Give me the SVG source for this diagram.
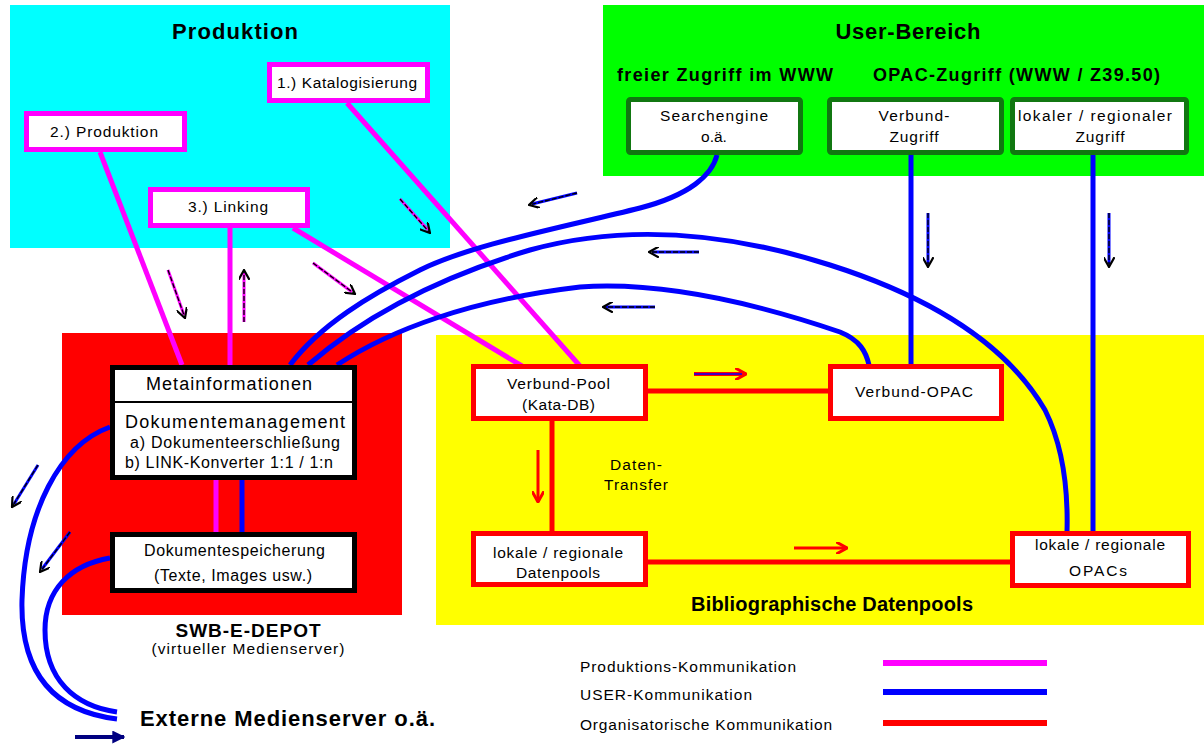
<svg xmlns="http://www.w3.org/2000/svg" width="1204" height="744" viewBox="0 0 1204 744">
  <style>
    text { font-family: "Liberation Sans", Arial, sans-serif; fill: #000; }
    .title { font-weight: bold; }
    .t14 { font-size: 15.5px; }
    .t15 { font-size: 16px; }
    .t17 { font-size: 18px; }
    .mid { text-anchor: middle; }
    .pbox { fill: #fff; stroke: #ff00ff; stroke-width: 5; }
    .gbox { fill: #fff; stroke: #117711; stroke-width: 5; }
    .rbox { fill: #fff; stroke: #ff0000; stroke-width: 5; }
    .kbox { fill: #fff; stroke: #000; stroke-width: 5; }
    .prod { stroke: #ff00ff; stroke-width: 5; fill: none; }
    .user { stroke: #0000ff; stroke-width: 5; fill: none; }
    .org { stroke: #ff0000; stroke-width: 5; fill: none; }
    .legend { stroke-width: 6; }
    .dash { stroke: #000; stroke-width: 1.3; stroke-dasharray: 5 2; fill: none; }
    .aP { stroke: #ff00ff; stroke-width: 3; }
    .aB { stroke: #0000ff; stroke-width: 3; }
    .aR { stroke: #ff0000; stroke-width: 3; }
  </style>
  <defs>
    <marker id="headK" viewBox="0 0 10 10" refX="9" refY="5" markerWidth="11" markerHeight="11" markerUnits="userSpaceOnUse" orient="auto">
      <path d="M0,0 L9,5 L0,10" fill="none" stroke="#000" stroke-width="2"/>
    </marker>
    <marker id="headR" viewBox="0 0 10 10" refX="9" refY="5" markerWidth="12" markerHeight="12" markerUnits="userSpaceOnUse" orient="auto">
      <path d="M0,0 L9,5 L0,10" fill="none" stroke="#ff0000" stroke-width="2.5"/>
    </marker>
    <marker id="headN" viewBox="0 0 10 10" refX="9" refY="5" markerWidth="13" markerHeight="13" markerUnits="userSpaceOnUse" orient="auto">
      <path d="M0,0 L10,5 L0,10 Z" fill="#000080"/>
    </marker>
  </defs>

  <rect width="1204" height="744" fill="#fff"/>

  <!-- areas -->
  <g id="areas">
    <rect x="10" y="5" width="440" height="243" fill="#00ffff"/>
    <rect x="603" y="5" width="601" height="171" fill="#00ff00"/>
    <rect x="62" y="333" width="340" height="282" fill="#ff0000"/>
    <rect x="436" y="335" width="768" height="290" fill="#ffff00"/>
  </g>

  <!-- connectors -->
  <g id="connectors">
    <line class="prod" x1="100" y1="152" x2="182" y2="365"/>
    <line class="prod" x1="230" y1="228" x2="230" y2="365"/>
    <line class="prod" x1="293" y1="228" x2="522" y2="366"/>
    <line class="prod" x1="347" y1="103" x2="580" y2="366"/>
    <line class="prod" x1="216" y1="480" x2="216" y2="532"/>

    <line class="org" x1="648" y1="391" x2="828" y2="391"/>
    <line class="org" x1="552" y1="421" x2="552" y2="531"/>
    <line class="org" x1="648" y1="562" x2="1010" y2="562"/>

    <line class="user" x1="242" y1="480" x2="242" y2="532"/>
    <line class="user" x1="911" y1="155" x2="911" y2="364"/>
    <line class="user" x1="1093" y1="155" x2="1093" y2="531"/>
    <path class="user" d="M717,155 C712,175 690,195 640,208 C560,228 470,245 420,270 C370,295 320,325 290,365"/>
    <path class="user" d="M308,365 C360,320 430,280 530,250 C620,225 720,230 830,265 C940,300 1010,350 1045,410 C1065,450 1068,495 1067,532"/>
    <path class="user" d="M337,365 C390,330 470,300 580,287 C680,280 790,315 840,332 C860,340 866,352 869,365"/>
    <path class="user" d="M110,427 C60,445 25,510 22,600 C20,680 60,712 117,719"/>
    <path class="user" d="M110,558 C70,565 45,590 45,630 C45,680 75,706 117,712"/>
  </g>

  <!-- direction arrows -->
  <g id="arrows">
    <line class="aP" x1="400" y1="199" x2="428" y2="230"/>
    <line class="dash" x1="400" y1="199" x2="430" y2="233" marker-end="url(#headK)"/>
    <line class="aP" x1="168" y1="270" x2="184" y2="315"/>
    <line class="dash" x1="168" y1="270" x2="185" y2="318" marker-end="url(#headK)"/>
    <line class="aP" x1="244" y1="322" x2="244" y2="273"/>
    <line class="dash" x1="244" y1="322" x2="244" y2="270" marker-end="url(#headK)"/>
    <line class="aP" x1="313" y1="263" x2="352" y2="292"/>
    <line class="dash" x1="313" y1="263" x2="355" y2="294" marker-end="url(#headK)"/>

    <line class="aB" x1="577" y1="193" x2="532" y2="204"/>
    <line class="dash" x1="577" y1="193" x2="529" y2="205" marker-end="url(#headK)"/>
    <line class="aB" x1="699" y1="252" x2="652" y2="252"/>
    <line class="dash" x1="699" y1="252" x2="649" y2="252" marker-end="url(#headK)"/>
    <line class="aB" x1="655" y1="307" x2="606" y2="307"/>
    <line class="dash" x1="655" y1="307" x2="603" y2="307" marker-end="url(#headK)"/>
    <line class="aB" x1="928" y1="213" x2="928" y2="264"/>
    <line class="dash" x1="928" y1="213" x2="928" y2="267" marker-end="url(#headK)"/>
    <line class="aB" x1="1109" y1="213" x2="1109" y2="264"/>
    <line class="dash" x1="1109" y1="213" x2="1109" y2="267" marker-end="url(#headK)"/>
    <line class="aB" x1="38" y1="465" x2="14" y2="504"/>
    <line class="dash" x1="38" y1="465" x2="12" y2="507" marker-end="url(#headK)"/>
    <line class="aB" x1="70" y1="532" x2="42" y2="569"/>
    <line class="dash" x1="70" y1="532" x2="40" y2="572" marker-end="url(#headK)"/>

    <line x1="694" y1="374" x2="746" y2="374" stroke="#ff0000" stroke-width="4" marker-end="url(#headR)"/>
    <line x1="694" y1="374" x2="742" y2="374" stroke="#0000ff" stroke-width="1.5"/>
    <line class="aR" x1="538" y1="450" x2="538" y2="502" marker-end="url(#headR)"/>
    <line class="aR" x1="794" y1="548" x2="847" y2="548" marker-end="url(#headR)"/>

    <line x1="75" y1="737" x2="124" y2="737" stroke="#000080" stroke-width="4" marker-end="url(#headN)"/>
  </g>

  <!-- Produktion -->
  <text class="title mid" x="235" y="39" font-size="22" textLength="126">Produktion</text>
  <g id="katalogisierung">
    <rect class="pbox" x="269.5" y="64.5" width="158" height="36"/>
    <text class="t14" x="277" y="88" textLength="140">1.) Katalogisierung</text>
  </g>
  <g id="produktion">
    <rect class="pbox" x="26.5" y="113.5" width="158" height="36"/>
    <text class="t14" x="50" y="137" textLength="108">2.) Produktion</text>
  </g>
  <g id="linking">
    <rect class="pbox" x="150.5" y="189.5" width="157" height="36"/>
    <text class="t14" x="188" y="212" textLength="80">3.) Linking</text>
  </g>

  <!-- User-Bereich -->
  <text class="title mid" x="908" y="39" font-size="22" textLength="145">User-Bereich</text>
  <text class="title" x="617" y="81" font-size="18" textLength="216">freier Zugriff im WWW</text>
  <text class="title" x="873" y="81" font-size="18" textLength="287">OPAC-Zugriff (WWW / Z39.50)</text>
  <g id="searchengine">
    <rect class="gbox" x="628.5" y="99.5" width="172" height="53" rx="2"/>
    <text class="t14 mid" x="714" y="121" textLength="108">Searchengine</text>
    <text class="t14 mid" x="714" y="142">o.ä.</text>
  </g>
  <g id="verbund-zugriff">
    <rect class="gbox" x="829.5" y="99.5" width="172" height="53" rx="2"/>
    <text class="t14 mid" x="914" y="121" textLength="71">Verbund-</text>
    <text class="t14 mid" x="914" y="142" textLength="49">Zugriff</text>
  </g>
  <g id="lokaler-zugriff">
    <rect class="gbox" x="1012.5" y="99.5" width="174" height="53" rx="2"/>
    <text class="t14 mid" x="1095" y="121" textLength="154">lokaler / regionaler</text>
    <text class="t14 mid" x="1100" y="142" textLength="49">Zugriff</text>
  </g>

  <!-- SWB-E-DEPOT -->
  <g id="metainformationen">
    <rect class="kbox" x="112.5" y="367.5" width="242" height="110"/>
    <line x1="112" y1="402" x2="355" y2="402" stroke="#000" stroke-width="2"/>
    <text class="t17 mid" x="229" y="390" textLength="166">Metainformationen</text>
    <text class="t17" x="125" y="428" textLength="220">Dokumentemanagement</text>
    <text class="t15" x="130" y="448" textLength="210">a) Dokumenteerschließung</text>
    <text class="t15" x="125" y="468" textLength="208">b) LINK-Konverter 1:1 / 1:n</text>
  </g>
  <g id="dokumentespeicherung">
    <rect class="kbox" x="112.5" y="534.5" width="242" height="56"/>
    <text class="t15" x="144" y="556" textLength="181">Dokumentespeicherung</text>
    <text class="t15" x="154" y="581" textLength="158">(Texte, Images usw.)</text>
  </g>
  <text class="title mid" x="248" y="637" font-size="19" textLength="145">SWB-E-DEPOT</text>
  <text class="t14 mid" x="248" y="654" textLength="193">(virtueller Medienserver)</text>

  <g id="externe-medienserver">
    <text class="title" x="140" y="726" font-size="22" textLength="295">Externe Medienserver o.ä.</text>
  </g>

  <!-- Bibliographische Datenpools -->
  <g id="verbund-pool">
    <rect class="rbox" x="473.5" y="366.5" width="172" height="52"/>
    <text class="t14" x="507" y="389" textLength="103">Verbund-Pool</text>
    <text class="t14" x="522" y="410" textLength="73">(Kata-DB)</text>
  </g>
  <g id="verbund-opac">
    <rect class="rbox" x="830.5" y="366.5" width="171" height="52"/>
    <text class="t14 mid" x="914" y="397" textLength="118">Verbund-OPAC</text>
  </g>
  <g id="lokale-datenpools">
    <rect class="rbox" x="473.5" y="533.5" width="172" height="51"/>
    <text class="t14" x="493" y="558" textLength="130">lokale / regionale</text>
    <text class="t14" x="516" y="578" textLength="84">Datenpools</text>
  </g>
  <g id="lokale-opacs">
    <rect class="rbox" x="1012.5" y="533.5" width="176" height="52"/>
    <text class="t14" x="1035" y="550" textLength="130">lokale / regionale</text>
    <text class="t14" x="1069" y="576" textLength="58">OPACs</text>
  </g>
  <text class="t14 mid" x="636" y="470" textLength="52">Daten-</text>
  <text class="t14 mid" x="636" y="490" textLength="64">Transfer</text>
  <text class="title" x="691" y="611" font-size="20" textLength="282">Bibliographische Datenpools</text>

  <!-- legend -->
  <g id="legend">
    <text class="t14" x="580" y="672" textLength="216">Produktions-Kommunikation</text>
    <text class="t14" x="580" y="700" textLength="172">USER-Kommunikation</text>
    <text class="t14" x="580" y="730" textLength="252">Organisatorische Kommunikation</text>
    <line class="legend" x1="883" y1="663" x2="1047" y2="663" stroke="#ff00ff"/>
    <line class="legend" x1="883" y1="692" x2="1047" y2="692" stroke="#0000ff"/>
    <line class="legend" x1="883" y1="723" x2="1047" y2="723" stroke="#ff0000"/>
  </g>
</svg>
